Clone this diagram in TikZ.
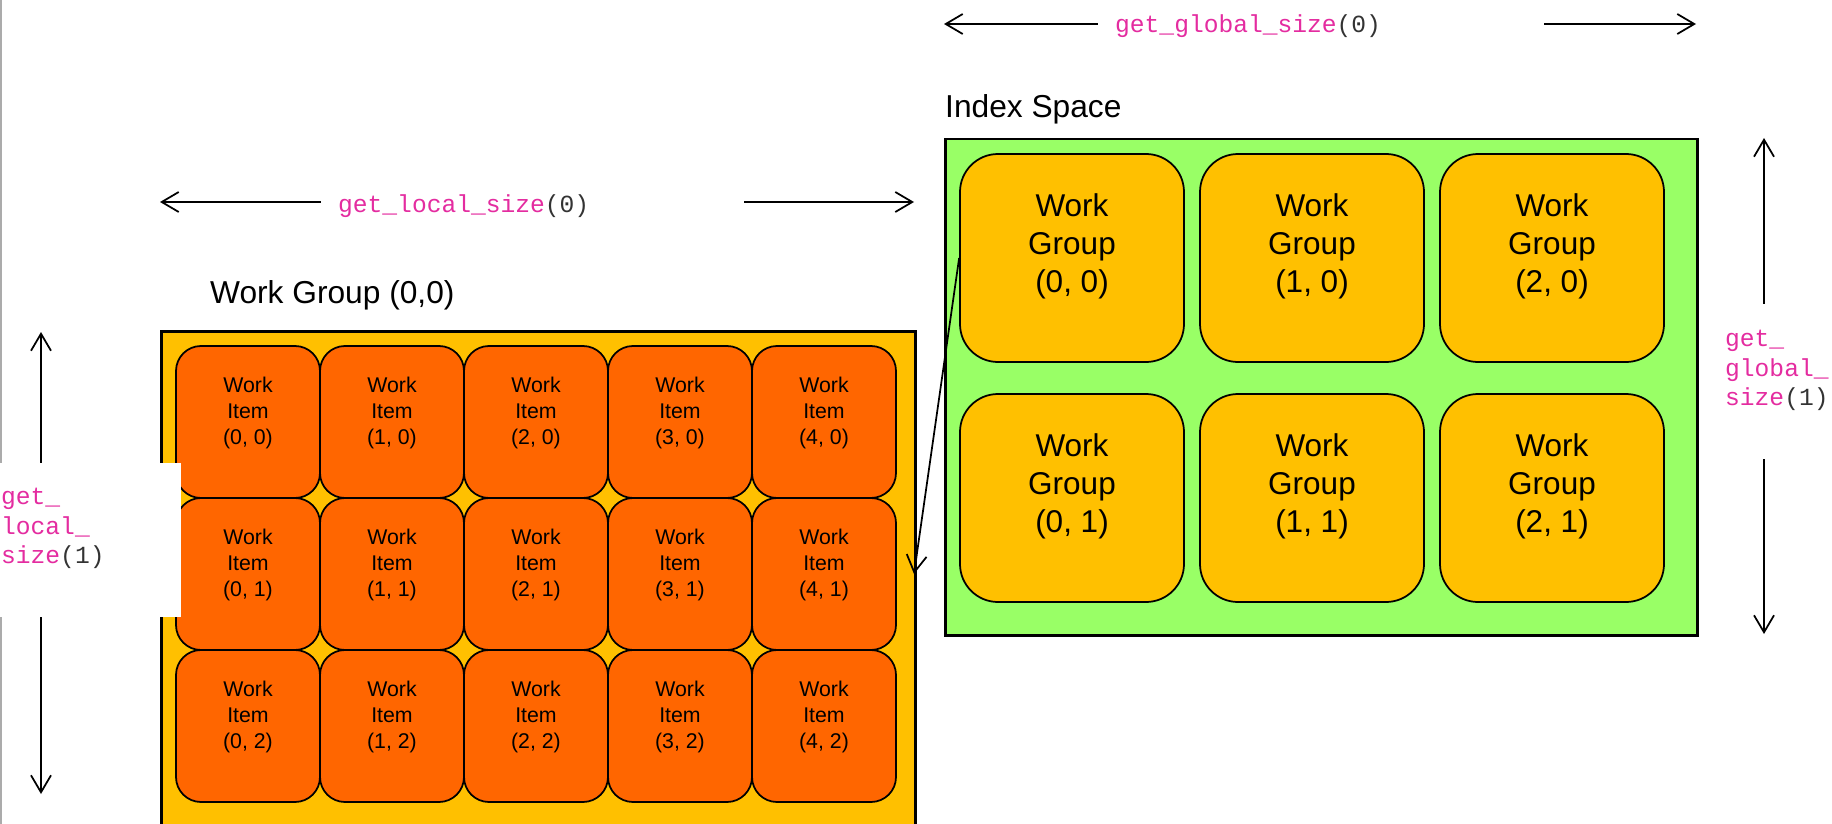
\documentclass[tikz,border=0pt]{standalone}
\usepackage{fontspec}
\setmainfont{Liberation Sans}
\setmonofont{Liberation Mono}
\usetikzlibrary{arrows.meta}

\definecolor{idxgreen}{HTML}{99FF66}
\definecolor{wgyellow}{HTML}{FFC000}
\definecolor{wiorange}{HTML}{FF6600}
\definecolor{fnpink}{RGB}{228,44,160}
\definecolor{argdark}{HTML}{333333}

% function name in pink, argument in dark grey
\newcommand{\fncall}[2]{\textcolor{fnpink}{#1}\textcolor{argdark}{#2}}

\tikzset{
  idxbox/.style={draw, fill=idxgreen, line width=2.5pt, anchor=north west, inner sep=0pt,
    minimum width=752pt, minimum height=496pt},
  wgbox/.style={draw, fill=wgyellow, line width=2.5pt, anchor=north west, inner sep=0pt,
    minimum width=754pt, minimum height=520pt},
  wgcell/.style={draw, fill=wgyellow, line width=1.75pt, rounded corners=38pt, inner sep=0pt,
    minimum width=224pt, minimum height=208pt},
  wicell/.style={draw, fill=wiorange, line width=1.75pt, rounded corners=25pt, inner sep=0pt,
    minimum width=144pt, minimum height=152pt},
  wgtext/.style={align=center, inner sep=0pt, font=\fontsize{31.5}{38}\selectfont},
  witext/.style={align=center, inner sep=0pt, font=\fontsize{21.3}{26}\selectfont},
  heading/.style={anchor=base west, inner sep=0pt, font=\fontsize{31.7}{38}\selectfont},
  sizetext/.style={align=left, inner sep=0pt, font=\ttfamily\fontsize{24.6}{29.5}\selectfont},
  maskbox/.style={fill=white, anchor=north west, inner sep=0pt},
  dimline/.style={line width=1.75pt},
  >={Straight Barb[length=17pt,width=20pt]}
}

\begin{document}
\begin{tikzpicture}[x=1pt, y=-1pt]
    \useasboundingbox (0,0) rectangle (1832,824);
    \clip (0,0) rectangle (1832,824);
    \fill[white] (0,0) rectangle (1832,824);
    \draw[line width=2pt, black!33] (1,0) -- (1,824);

    % index space with its work groups
    \node[idxbox] (idx) at (944,138) {};
    \foreach \i in {0,1,2} {
        \foreach \j in {0,1} {
            \node[wgcell] (wg\i\j) at ({1072+240*\i},{258+240*\j}) {};
            \node[wgtext] (wg\i\j-t) at ([yshift=12pt]wg\i\j.center) {Work\\Group\\(\i, \j)};
        }
    }

    % work group (0,0) with its work items
    \node[wgbox] (wg) at (160,330) {};
    \foreach \i in {0,...,4} {
        \foreach \j in {0,1,2} {
            \node[wicell] (wi\i\j) at ({248+144*\i},{422+152*\j}) {};
            \node[witext] (wi\i\j-t) at ([yshift=9pt]wi\i\j.center) {Work\\Item\\(\i, \j)};
        }
    }

    \node[heading] (idxlabel) at (945,118) {Index Space};
    \node[heading] (wglabel) at (210,303) {Work Group (0,0)};

    % size arrows
    \coordinate (gx0) at (944,24);
    \coordinate (gx1) at (1696,24);
    \coordinate (lx0) at (160,202);
    \coordinate (lx1) at (914,202);
    \coordinate (gy0) at (1764,138);
    \coordinate (gy1) at (1764,634);
    \coordinate (ly0) at (41,332);
    \coordinate (ly1) at (41,794);
    \draw[dimline, <->] (gx0) -- (gx1);
    \draw[dimline, <->] (lx0) -- (lx1);
    \draw[dimline, <->] (gy0) -- (gy1);
    \draw[dimline, <->] (ly0) -- (ly1);

    % zoom from the group to its items
    \coordinate (wgtip) at (914,574);
    \draw[dimline, ->] (wg00.west) -- (wgtip);

    % white boxes behind the size labels
    \node[maskbox, minimum width=446pt, minimum height=44pt] (gx-mask) at (1098,2) {};
    \node[maskbox, minimum width=423pt, minimum height=40pt] (lx-mask) at (321,182) {};
    \node[maskbox, minimum width=116pt, minimum height=155pt] (gy-mask) at (1716,304) {};
    \node[maskbox, minimum width=181pt, minimum height=154pt] (ly-mask) at (0,463) {};

    \node[sizetext, anchor=base west] (gx-t) at (1115,33) {\fncall{get\_global\_size}{(0)}};
    \node[sizetext, anchor=base west] (lx-t) at (338,212) {\fncall{get\_local\_size}{(0)}};
    \node[sizetext, anchor=north west] (gy-t) at (1725,330)
        {\fncall{get\_}{}\\\fncall{global\_}{}\\\fncall{size}{(1)}};
    \node[sizetext, anchor=north west] (ly-t) at (1,488)
        {\fncall{get\_}{}\\\fncall{local\_}{}\\\fncall{size}{(1)}};
\end{tikzpicture}
\end{document}
